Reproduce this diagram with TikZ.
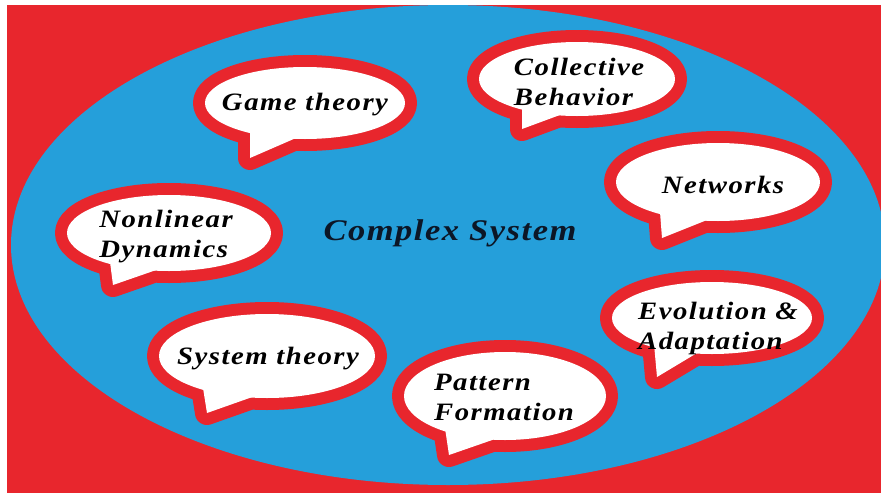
\documentclass[tikz,border=0pt]{standalone}
\usepackage{fontspec}
\setmainfont{Liberation Serif}
\newfontfamily\bubblefont{Liberation Serif}[FakeStretch=1.15, LetterSpace=6]
\newfontfamily\titlefont{Liberation Serif}[FakeStretch=1.15, LetterSpace=5]
\definecolor{rimred}{RGB}{232,38,45}
\definecolor{seablue}{RGB}{37,159,218}
\definecolor{ink}{RGB}{12,22,38}
\tikzset{
  rim/.style={draw=rimred, line width=24pt, line join=round},
  topic/.style={font=\bubblefont\fontsize{25}{30}\selectfont\bfseries\itshape, align=left, inner sep=0pt}
}

\begin{document}
\begin{tikzpicture}[x=1pt, y=-1pt]
        \useasboundingbox (0,0) rectangle (881,493);
        \fill[white] (0,0) rectangle (881,493);
        \fill[rimred] (7,5) rectangle (881,493);
        \fill[seablue] (448,245) ellipse (437 and 240);
        \node[font=\titlefont\fontsize{30}{36}\selectfont\bfseries\itshape, text=ink] (title) at (450,233) {Complex System};

        \draw[rim] (305,103) ellipse (100 and 36) (250,130) -- (250,158) -- (296,138) -- cycle;
        \fill[white] (305,103) ellipse (100 and 36);
        \fill[white] (250,130) -- (250,158) -- (296,138) -- cycle;
        \node[topic] (game) at (305,105) {Game theory};

        \draw[rim] (577,79) ellipse (98 and 37) (522,105) -- (522,129) -- (568,112) -- cycle;
        \fill[white] (577,79) ellipse (98 and 37);
        \fill[white] (522,105) -- (522,129) -- (568,112) -- cycle;
        \node[topic] (collective) at (579,82) {Collective\\Behavior};

        \draw[rim] (718,182) ellipse (102 and 39) (660,212) -- (662,238) -- (712,218) -- cycle;
        \fill[white] (718,182) ellipse (102 and 39);
        \fill[white] (660,212) -- (662,238) -- (712,218) -- cycle;
        \node[topic] (networks) at (723,185) {Networks};

        \draw[rim] (169,233) ellipse (102 and 38) (110,262) -- (113,285) -- (162,268) -- cycle;
        \fill[white] (169,233) ellipse (102 and 38);
        \fill[white] (110,262) -- (113,285) -- (162,268) -- cycle;
        \node[topic] (nonlinear) at (166,237) {Nonlinear\\Dynamics};

        \draw[rim] (267,356) ellipse (108 and 42) (203,388) -- (207,413) -- (258,395) -- cycle;
        \fill[white] (267,356) ellipse (108 and 42);
        \fill[white] (203,388) -- (207,413) -- (258,395) -- cycle;
        \node[topic] (systems) at (268,359) {System theory};

        \draw[rim] (505,396) ellipse (101 and 44) (445,428) -- (449,455) -- (498,438) -- cycle;
        \fill[white] (505,396) ellipse (101 and 44);
        \fill[white] (445,428) -- (449,455) -- (498,438) -- cycle;
        \node[topic] (pattern) at (504,397) {Pattern\\Formation};

        \draw[rim] (712,318) ellipse (100 and 36) (654,344) -- (657,377) -- (702,350) -- cycle;
        \fill[white] (712,318) ellipse (100 and 36);
        \fill[white] (654,344) -- (657,377) -- (702,350) -- cycle;
        \node[topic] (evolution) at (718,328) {Evolution \&\\Adaptation};
\end{tikzpicture}
\end{document}
